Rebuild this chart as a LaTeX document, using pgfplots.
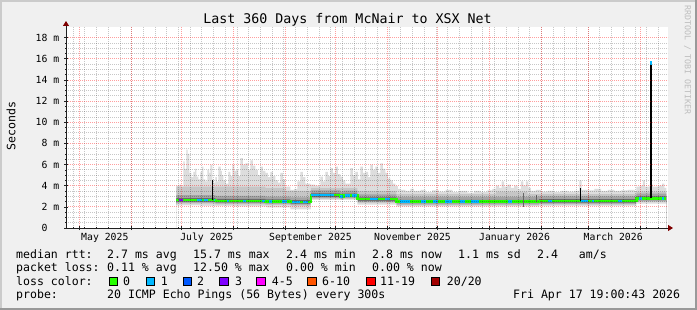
\documentclass[border=0pt]{standalone}
\usepackage{pgfplots}
\usepackage{pgfplotstable}
\pgfplotsset{compat=1.18}
\usetikzlibrary{arrows.meta}
\usepackage{fontspec}
\setmainfont{DejaVu Sans Mono}

\definecolor{bgc}{HTML}{F0F0F0}
\definecolor{shadea}{HTML}{CBCBCB}
\definecolor{shadeb}{HTML}{999999}
\definecolor{arrowc}{HTML}{7F0000}
\definecolor{axisc}{HTML}{202020}
\definecolor{wmc}{HTML}{BDBDBD}
\definecolor{smokeA}{HTML}{DDDDDD}
\definecolor{smokeB}{HTML}{C6C6C6}
\definecolor{smokeC}{HTML}{A4A4A4}
\definecolor{smokeD}{HTML}{6A6A6A}
\definecolor{lcA}{HTML}{26FF00}
\definecolor{lcB}{HTML}{00B8FF}
\definecolor{lcC}{HTML}{0059FF}
\definecolor{lcD}{HTML}{7E00FF}
\definecolor{lcE}{HTML}{FF00FF}
\definecolor{lcF}{HTML}{FF5500}
\definecolor{lcG}{HTML}{FF0000}
\definecolor{lcH}{HTML}{A10000}

% max envelope of the smoke (ms), x = days since start of the 360-day window
\pgfplotstableread{
x y
66.0 4.0
67.8 4.1
69.0 3.9
70.2 6.3
71.0 5.6
72.0 7.4
72.8 7.0
73.8 5.2
75.0 4.8
76.2 5.3
77.2 5.6
78.0 4.85
79.2 4.6
80.4 5.3
81.4 5.8
82.2 4.6
83.4 4.4
84.6 5.5
85.6 5.2
86.4 6.0
87.6 4.6
88.6 4.3
89.4 4.8
90.2 4.4
91.1 5.8
92.4 5.4
93.2 5.0
94.1 4.5
95.6 4.2
97.1 5.3
98.3 4.9
99.5 6.0
100.7 5.4
101.9 5.5
103.1 4.9
104.3 6.6
105.8 6.0
107.3 6.1
108.8 5.5
110.3 6.4
111.8 5.9
113.3 5.5
114.8 5.0
116.3 5.8
117.8 5.4
119.3 5.2
120.7 4.8
122.2 5.3
123.7 4.9
125.2 4.5
126.7 4.3
128.2 5.2
129.7 4.6
131.2 3.9
134.2 3.6
136.4 3.7
138.4 4.4
140.2 5.3
141.6 4.8
143.2 4.2
146.2 4.1
149.0 4.0
152.1 4.85
153.6 4.4
155.1 5.3
156.6 4.9
158.1 5.65
159.6 5.2
161.1 5.8
162.6 5.1
164.1 4.85
165.6 4.5
167.1 4.2
170.1 5.65
171.6 5.0
173.1 5.3
174.6 4.6
176.1 5.8
177.6 5.2
179.1 5.3
180.6 4.8
182.0 6.0
183.5 5.5
185.0 5.8
186.5 5.2
188.0 6.1
189.5 5.6
191.0 5.2
192.5 4.7
194.0 4.5
195.5 4.2
197.0 3.95
198.5 3.7
200.0 3.6
203.0 3.5
206.0 3.7
208.0 3.5
212.0 3.6
215.0 3.4
219.0 3.55
223.0 3.45
227.0 3.6
231.0 3.4
235.0 3.5
240.0 3.35
244.0 3.5
248.0 3.4
252.0 3.55
255.0 3.7
257.0 4.0
259.0 3.8
260.5 4.4
262.0 3.9
264.0 4.1
266.0 3.8
268.0 4.0
270.0 3.7
272.0 4.4
273.5 4.0
275.0 4.4
276.5 3.8
278.0 3.5
281.0 3.6
284.0 3.45
288.0 3.5
292.0 3.4
296.0 3.5
300.0 3.45
304.0 3.5
307.0 4.5
308.4 3.6
312.0 3.55
316.0 3.7
320.0 3.5
324.0 3.6
328.0 3.5
332.0 3.55
336.0 3.6
340.0 3.5
341.1 3.9
343.0 4.0
345.0 4.5
346.2 3.9
349.0 4.1
351.0 3.9
354.0 4.0
356.5 4.2
357.9 3.8
359.1 3.8
}\maxenv

\pgfplotstableread{
x y
66.0 2.15
80.0 2.10
100.0 2.05
120.0 1.95
134.2 1.75
146.5 2.65
174.3 2.20
197.6 2.05
283.0 2.10
341.1 2.30
359.1 2.30
}\minenv

\pgfplotstableread{
x lo hi
66.0 2.30 3.90
89.4 2.23 3.90
119.3 2.17 3.80
131.2 2.17 3.50
134.2 2.10 3.50
146.5 2.75 3.80
164.1 2.63 3.80
165.9 2.73 3.80
174.3 2.37 3.50
197.6 2.14 3.20
257.0 2.14 3.45
276.0 2.14 3.20
283.0 2.20 3.20
341.1 2.45 3.45
359.1 2.45 3.45
}\layerB

\pgfplotstableread{
x lo hi
66.0 2.40 3.10
89.4 2.33 3.03
119.3 2.27 2.97
134.2 2.20 2.90
146.5 2.85 3.55
164.1 2.73 3.43
165.9 2.83 3.53
174.3 2.47 3.17
197.6 2.24 2.94
283.0 2.30 3.00
341.1 2.55 3.25
359.1 2.55 3.25
}\layerC

\pgfplotstableread{
x lo hi
66.0 2.50 2.83
89.4 2.43 2.76
119.3 2.37 2.70
134.2 2.30 2.63
146.5 2.95 3.28
164.1 2.83 3.16
165.9 2.93 3.26
174.3 2.57 2.90
197.6 2.34 2.67
283.0 2.40 2.73
341.1 2.65 2.98
359.1 2.65 2.98
}\layerD

\pgfplotstableread{
x y
66.0 2.65
89.4 2.58
119.3 2.52
134.2 2.45
146.5 3.10
164.1 2.98
165.9 3.08
174.3 2.72
197.6 2.49
283.0 2.55
341.1 2.80
359.1 2.80
}\median

\pgfplotstableread{
x y
78.6 2.65
81.6 2.65
81.6 nan
82.8 2.65
85.2 2.65
85.2 nan
88.3 2.65
89.4 2.65
89.4 nan
96.5 2.58
97.7 2.58
97.7 nan
106.1 2.58
107.9 2.58
107.9 nan
117.5 2.58
119.3 2.58
119.3 nan
121.1 2.52
123.4 2.52
123.4 nan
129.4 2.52
132.4 2.52
132.4 nan
135.4 2.45
140.2 2.45
140.2 nan
142.0 2.45
145.0 2.45
145.0 nan
146.8 3.10
160.5 3.10
160.5 nan
164.1 2.98
165.9 2.98
165.9 nan
167.1 3.08
170.1 3.08
170.1 nan
171.3 3.08
174.3 3.08
174.3 nan
182.0 2.72
186.8 2.72
186.8 nan
191.0 2.72
194.0 2.72
194.0 nan
200.0 2.49
206.0 2.49
206.0 nan
212.0 2.49
215.0 2.49
215.0 nan
219.2 2.49
222.2 2.49
222.2 nan
226.9 2.49
231.1 2.49
231.1 nan
235.9 2.49
238.9 2.49
238.9 nan
241.9 2.49
246.7 2.49
246.7 nan
264.6 2.49
267.0 2.49
267.0 nan
288.5 2.55
290.9 2.55
290.9 nan
307.7 2.55
311.9 2.55
311.9 nan
314.8 2.55
316.0 2.55
316.0 nan
330.3 2.55
332.7 2.55
332.7 nan
342.9 2.80
344.7 2.80
344.7 nan
356.6 2.80
357.8 2.80
}\blueseg

\newcommand{\lgd}{\fontsize{11.55bp}{13bp}\selectfont}

\begin{document}
\begin{tikzpicture}
\useasboundingbox (0,0) rectangle (697bp,310bp);
\fill[bgc] (0,0) rectangle (697bp,310bp);
\fill[shadea] (0,0) rectangle (2bp,310bp);
\fill[shadea] (0,308bp) rectangle (697bp,310bp);
\fill[shadeb] (0,0) rectangle (697bp,2bp);
\fill[shadeb] (695bp,0) rectangle (697bp,310bp);

\begin{axis}[
  at={(66bp,82bp)}, anchor=south west,
  scale only axis, width=602bp, height=201bp,
  xmin=0, xmax=360, ymin=0, ymax=19,
  axis background/.style={fill=white},
  axis on top,
  axis x line=bottom, axis y line=left,
  axis line style={color=axisc, line width=0.8bp},
  x axis line style={-{Triangle[length=5bp,width=6bp,color=arrowc]}, shorten >=-5bp},
  y axis line style={-{Triangle[length=5bp,width=6bp,color=arrowc]}, shorten >=-6bp},
  xtick={8.21,39.21,69.21,100.21,131.21,161.21,192.21,222.21,253.21,284.21,312.21,343.21},
  xticklabels={,,,,,,,,,,,},
  minor xtick={4.21,11.21,...,354.21},
  extra x ticks={23.21,84.21,146.21,207.21,268.21,327.21},
  extra x tick labels={May 2025,July 2025,September 2025,November 2025,January 2026,March 2026},
  extra x tick style={grid=none, major tick length=0pt},
  ytick={0,2,...,18},
  yticklabels={0\phantom{xx},2 m,4 m,6 m,8 m,10 m,12 m,14 m,16 m,18 m},
  minor y tick num=3,
  grid=both,
  major grid style={color=red, draw opacity=0.38, dash pattern=on 1bp off 1bp, line width=0.7bp},
  minor grid style={color=black, draw opacity=0.22, dash pattern=on 1bp off 1bp, line width=0.7bp},
  tick align=center, major tick length=4bp, minor tick length=2bp,
  tick style={color=axisc, line width=0.6bp},
  ticklabel style={font=\fontsize{9.8bp}{11bp}\selectfont, inner sep=0pt},
  xticklabel style={anchor=base, yshift=-12.2bp},
  yticklabel style={anchor=east, xshift=-4.5bp},
]
% smoke: nested areas from the x axis, outermost first
\addplot[const plot, fill=smokeA, draw=none, forget plot] table {\maxenv} \closedcycle;
\addplot[const plot, fill=smokeB, draw=none, forget plot] table[x=x,y=hi] {\layerB} \closedcycle;
\addplot[const plot, fill=smokeC, draw=none, forget plot] table[x=x,y=hi] {\layerC} \closedcycle;
\addplot[const plot, fill=smokeD, draw=none, forget plot] table[x=x,y=hi] {\layerD} \closedcycle;
\addplot[const plot, fill=smokeC, draw=none, forget plot] table[x=x,y=lo] {\layerD} \closedcycle;
\addplot[const plot, fill=smokeB, draw=none, forget plot] table[x=x,y=lo] {\layerC} \closedcycle;
\addplot[const plot, fill=smokeA, draw=none, forget plot] table[x=x,y=lo] {\layerB} \closedcycle;
\addplot[const plot, fill=white, draw=none, forget plot] table {\minenv} \closedcycle;

\addplot[const plot, color=lcA, line width=2.4bp, forget plot] table {\median};
\addplot[color=lcB, line width=2.4bp, unbounded coords=jump, forget plot] table {\blueseg};
\addplot[color=lcD, line width=2.4bp, forget plot] coordinates {(67.3,2.65) (69.7,2.65)};

\addplot[color=black, line width=1.9bp, unbounded coords=jump, forget plot] coordinates {
  (87.6,2.62) (87.6,4.5) (87.7,nan)
  (307.7,2.55) (307.7,3.75) (307.8,nan)
  (350.1,2.8) (350.1,15.45)};
\addplot[color=lcB, line width=1.9bp, forget plot] coordinates {(350.1,15.4) (350.1,15.75)};
\addplot[color=black!60, line width=1.2bp, unbounded coords=jump, forget plot] coordinates {
  (273.8,2.0) (273.8,3.3) (273.9,nan) (281.2,2.5) (281.2,3.1)};
\end{axis}

% title, unit label, watermark
\node[anchor=base, inner sep=0, font=\fontsize{13.3bp}{15bp}\selectfont] at (347.5bp,286.5bp) {Last 360 Days from McNair to XSX Net};
\node[rotate=90, inner sep=0, font=\lgd] at (11bp,184bp) {Seconds};
\node[rotate=-90, inner sep=0, font=\fontsize{8.3bp}{9bp}\selectfont, text=wmc] at (687.5bp,250bp) {RRDTOOL / TOBI OETIKER};

% legend rows
\begin{scope}[every node/.style={anchor=base west, inner sep=0, font=\lgd}]
\node at (16bp,51.4bp) {median rtt:};
\node at (107bp,51.4bp) {2.7 ms avg};
\node at (193bp,51.4bp) {15.7 ms max};
\node at (286bp,51.4bp) {2.4 ms min};
\node at (372bp,51.4bp) {2.8 ms now};
\node at (458bp,51.4bp) {1.1 ms sd};
\node at (537bp,51.4bp) {2.4\ \ \ am/s};

\node at (16bp,38.1bp) {packet loss:};
\node at (107bp,38.1bp) {0.11 \% avg};
\node at (193bp,38.1bp) {12.50 \% max};
\node at (286bp,38.1bp) {0.00 \% min};
\node at (372bp,38.1bp) {0.00 \% now};

\node at (16bp,24.8bp) {loss color:};
\node at (123bp,24.8bp) {0};
\node at (160.7bp,24.8bp) {1};
\node at (197bp,24.8bp) {2};
\node at (235bp,24.8bp) {3};
\node at (271.7bp,24.8bp) {4-5};
\node at (322bp,24.8bp) {6-10};
\node at (380bp,24.8bp) {11-19};
\node at (446.7bp,24.8bp) {20/20};

\node at (16bp,11.5bp) {probe:};
\node at (107bp,11.5bp) {20 ICMP Echo Pings (56 Bytes) every 300s};
\node at (513bp,11.5bp) {Fri Apr 17 19:00:43 2026};
\end{scope}

\begin{scope}[every node/.style={anchor=south west, inner sep=0, minimum size=8.2bp, draw=black, line width=0.8bp}]
\node[fill=lcA] at (108.7bp,23.7bp) {};
\node[fill=lcB] at (146.1bp,23.7bp) {};
\node[fill=lcC] at (183.1bp,23.7bp) {};
\node[fill=lcD] at (219.4bp,23.7bp) {};
\node[fill=lcE] at (256.4bp,23.7bp) {};
\node[fill=lcF] at (307.4bp,23.7bp) {};
\node[fill=lcG] at (366.4bp,23.7bp) {};
\node[fill=lcH] at (431.1bp,23.7bp) {};
\end{scope}
\end{tikzpicture}
\end{document}
